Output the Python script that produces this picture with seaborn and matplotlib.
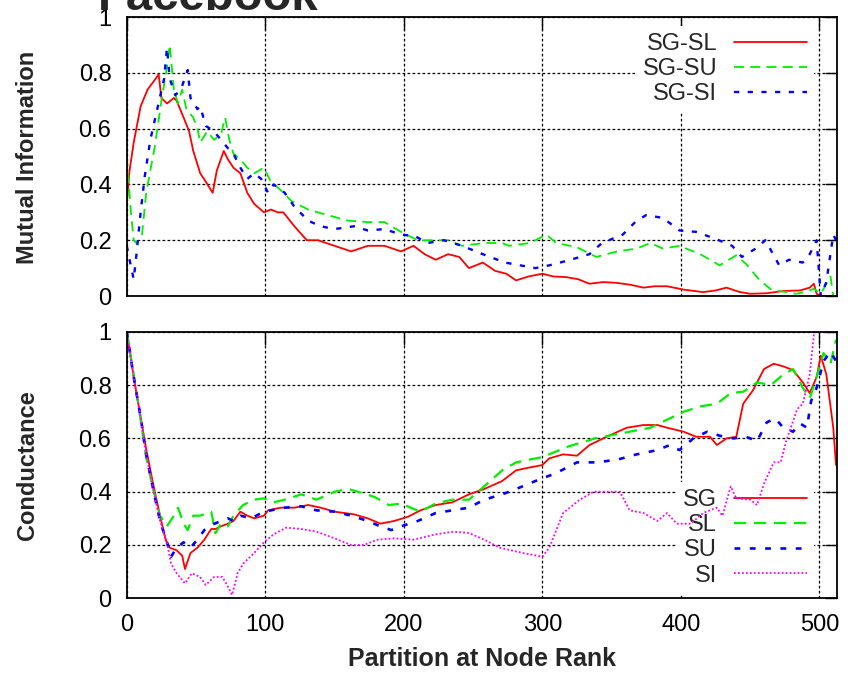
import matplotlib
matplotlib.use("Agg")
import matplotlib.pyplot as plt
import seaborn as sns

# ---------------- data ----------------
# Top panel: Mutual Information
mi_sl_x = [0, 2, 5, 10, 15, 21, 23, 25, 29, 34, 36, 41, 45, 48, 53, 57, 62, 65, 70, 73,
           77, 82, 87, 92, 99, 104, 109, 113, 121, 130, 138, 150, 162, 174, 186, 198, 207,
           215, 223, 232, 240, 247, 257, 266, 274, 281, 290, 300, 308, 317, 326, 334, 344,
           354, 364, 373, 381, 390, 402, 416, 425, 433, 442, 450, 462, 474, 486, 493, 496,
           498, 501, 512]
mi_sl_y = [0.33, 0.45, 0.55, 0.68, 0.74, 0.78, 0.795, 0.71, 0.69, 0.71, 0.70, 0.64, 0.59,
           0.52, 0.44, 0.41, 0.37, 0.45, 0.52, 0.49, 0.46, 0.44, 0.37, 0.33, 0.30, 0.31,
           0.30, 0.30, 0.25, 0.20, 0.20, 0.18, 0.16, 0.18, 0.18, 0.16, 0.18, 0.15, 0.13,
           0.15, 0.14, 0.10, 0.12, 0.09, 0.08, 0.056, 0.07, 0.08, 0.07, 0.068, 0.06, 0.044,
           0.05, 0.047, 0.04, 0.03, 0.035, 0.035, 0.023, 0.014, 0.02, 0.03, 0.015, 0.008,
           0.01, 0.018, 0.02, 0.03, 0.044, 0.008, 0.0, 0.0]

mi_su_x = [0, 3, 5, 7, 11, 14, 17, 20, 23, 25, 29, 31, 34, 37, 40, 43, 48, 51, 53, 58,
           63, 68, 71, 74, 77, 82, 87, 92, 99, 104, 111, 119, 131, 145, 160, 174, 186, 198,
           210, 223, 232, 242, 258, 271, 276, 291, 303, 310, 325, 339, 354, 368, 378, 387,
           399, 414, 428, 440, 447, 457, 466, 475, 483, 490, 496, 501, 508, 510, 512]
mi_su_y = [0.5, 0.3, 0.2, 0.19, 0.22, 0.37, 0.45, 0.53, 0.63, 0.70, 0.82, 0.90, 0.74, 0.69,
           0.74, 0.67, 0.64, 0.60, 0.55, 0.59, 0.56, 0.58, 0.64, 0.56, 0.51, 0.49, 0.46,
           0.44, 0.46, 0.41, 0.38, 0.34, 0.31, 0.29, 0.27, 0.265, 0.265, 0.23, 0.20, 0.20,
           0.20, 0.18, 0.19, 0.19, 0.18, 0.19, 0.22, 0.19, 0.175, 0.14, 0.16, 0.17, 0.19,
           0.17, 0.18, 0.15, 0.11, 0.146, 0.115, 0.056, 0.02, 0.015, 0.008, 0.015, 0.026,
           0.008, 0.07, 0.0, 0.0]

mi_si_x = [0, 2, 5, 7, 10, 13, 17, 22, 27, 29, 31, 35, 39, 44, 46, 51, 53, 57, 63, 68,
           73, 77, 82, 87, 92, 97, 102, 106, 114, 121, 131, 140, 150, 164, 174, 186, 198,
           208, 217, 229, 242, 257, 273, 284, 295, 305, 319, 334, 343, 358, 368, 375, 387,
           399, 411, 425, 437, 444, 454, 461, 471, 478, 488, 493, 498, 501, 505, 510, 512]
mi_si_y = [0.18, 0.13, 0.06, 0.15, 0.30, 0.43, 0.56, 0.67, 0.78, 0.89, 0.78, 0.72, 0.74,
           0.81, 0.71, 0.67, 0.68, 0.61, 0.59, 0.56, 0.53, 0.51, 0.46, 0.42, 0.44, 0.42,
           0.37, 0.40, 0.37, 0.32, 0.27, 0.25, 0.24, 0.25, 0.235, 0.24, 0.22, 0.215, 0.19,
           0.20, 0.18, 0.15, 0.12, 0.11, 0.10, 0.11, 0.128, 0.15, 0.19, 0.22, 0.27, 0.29,
           0.28, 0.235, 0.23, 0.205, 0.18, 0.14, 0.17, 0.20, 0.11, 0.13, 0.12, 0.15, 0.20,
           0.0, 0.05, 0.22, 0.20]

# Bottom panel: Conductance
co_sg_x = [0, 5, 10, 14, 19, 24, 28, 31, 36, 40, 42, 46, 51, 56, 61, 64, 68, 73, 77, 82,
           87, 92, 99, 102, 111, 121, 131, 140, 150, 164, 174, 183, 193, 203, 212, 223,
           235, 247, 258, 271, 281, 290, 300, 305, 315, 325, 334, 348, 361, 373, 383, 390,
           402, 411, 421, 426, 433, 440, 445, 452, 460, 467, 474, 481, 488, 493, 498, 501,
           505, 510, 512]
co_sg_y = [1.0, 0.83, 0.68, 0.56, 0.43, 0.31, 0.22, 0.19, 0.18, 0.16, 0.11, 0.17, 0.19,
           0.22, 0.26, 0.26, 0.27, 0.28, 0.29, 0.325, 0.31, 0.30, 0.31, 0.33, 0.34, 0.34,
           0.35, 0.34, 0.325, 0.315, 0.30, 0.28, 0.29, 0.306, 0.33, 0.35, 0.36, 0.39, 0.41,
           0.44, 0.48, 0.49, 0.50, 0.525, 0.54, 0.535, 0.575, 0.61, 0.64, 0.65, 0.65, 0.64,
           0.625, 0.606, 0.606, 0.575, 0.60, 0.606, 0.73, 0.78, 0.86, 0.88, 0.87, 0.856,
           0.81, 0.77, 0.83, 0.91, 0.84, 0.64, 0.50]

co_sl_x = [0, 5, 10, 14, 19, 24, 29, 34, 37, 41, 44, 48, 53, 61, 64, 68, 73, 77, 84, 92,
           99, 106, 114, 126, 137, 150, 160, 170, 179, 189, 198, 205, 212, 223, 235, 247,
           258, 271, 281, 300, 319, 338, 358, 378, 390, 402, 414, 426, 436, 445, 455, 465,
           474, 481, 488, 493, 498, 503, 508, 512]
co_sl_y = [1.0, 0.84, 0.67, 0.53, 0.41, 0.31, 0.27, 0.31, 0.34, 0.28, 0.256, 0.31, 0.31,
           0.325, 0.244, 0.28, 0.27, 0.31, 0.35, 0.37, 0.375, 0.36, 0.37, 0.39, 0.37, 0.40,
           0.41, 0.395, 0.38, 0.35, 0.355, 0.34, 0.325, 0.356, 0.37, 0.37, 0.42, 0.48, 0.51,
           0.53, 0.57, 0.60, 0.62, 0.64, 0.67, 0.70, 0.72, 0.73, 0.77, 0.775, 0.81, 0.80,
           0.84, 0.86, 0.79, 0.75, 0.83, 0.92, 0.88, 0.97]

co_su_x = [0, 5, 10, 14, 19, 24, 29, 32, 36, 41, 46, 51, 56, 61, 68, 73, 77, 82, 90, 97,
           104, 114, 126, 137, 150, 162, 174, 183, 191, 198, 210, 223, 235, 247, 258, 271,
           281, 295, 310, 325, 339, 354, 368, 383, 392, 399, 409, 419, 428, 438, 447, 455,
           462, 468, 474, 481, 486, 491, 494, 498, 503, 508, 512]
co_su_y = [1.0, 0.83, 0.68, 0.54, 0.41, 0.29, 0.21, 0.156, 0.19, 0.21, 0.19, 0.22, 0.256,
           0.275, 0.29, 0.30, 0.29, 0.31, 0.30, 0.32, 0.33, 0.34, 0.345, 0.33, 0.325, 0.31,
           0.29, 0.27, 0.256, 0.27, 0.29, 0.32, 0.33, 0.34, 0.37, 0.39, 0.41, 0.44, 0.47,
           0.51, 0.51, 0.52, 0.54, 0.556, 0.575, 0.556, 0.60, 0.625, 0.61, 0.60, 0.606,
           0.59, 0.66, 0.675, 0.64, 0.625, 0.656, 0.64, 0.74, 0.79, 0.89, 0.925, 0.89]

co_si_x = [0, 5, 10, 14, 19, 24, 29, 32, 36, 42, 47, 53, 57, 63, 69, 73, 76, 80, 84, 92,
           99, 106, 115, 126, 137, 150, 162, 171, 181, 193, 207, 223, 236, 247, 258, 269,
           286, 300, 305, 315, 327, 337, 349, 356, 363, 373, 383, 390, 397, 407, 416, 426,
           430, 436, 440, 450, 455, 460, 467, 472, 476, 484, 488, 493, 496, 498, 512]
co_si_y = [1.0, 0.83, 0.68, 0.54, 0.41, 0.29, 0.21, 0.13, 0.094, 0.056, 0.094, 0.08, 0.05,
           0.08, 0.08, 0.044, 0.0125, 0.094, 0.13, 0.17, 0.21, 0.24, 0.265, 0.26, 0.25,
           0.225, 0.20, 0.20, 0.22, 0.225, 0.22, 0.24, 0.25, 0.245, 0.22, 0.19, 0.17, 0.156,
           0.19, 0.32, 0.37, 0.40, 0.40, 0.40, 0.33, 0.32, 0.29, 0.32, 0.28, 0.28, 0.32,
           0.34, 0.31, 0.42, 0.375, 0.37, 0.35, 0.43, 0.51, 0.51, 0.59, 0.71, 0.73, 0.84,
           0.99, 1.0, 1.0]

top_labels = ["SG-SL", "SG-SU", "SG-SI"]
bottom_labels = ["SG", "SL", "SU", "SI"]
x_ticks = [0, 100, 200, 300, 400, 500]
x_tick_labels = ["0", "100", "200", "300", "400", "500"]
y_ticks = [0, 0.2, 0.4, 0.6, 0.8, 1.0]
y_tick_labels = ["0", "0.2", "0.4", "0.6", "0.8", "1"]
title_text = "Facebook"
top_ylabel = "Mutual Information"
bottom_ylabel = "Conductance"
x_label = "Partition at Node Rank"

# ---------------- styling ----------------
sns.set_theme(style="white")
plt.rcParams["font.family"] = ["Liberation Sans", "DejaVu Sans"]

RED = "#ff0000"
GREEN = "#00ee00"
BLUE = "#0000ff"
MAG = "#ff00ff"
LW = 1.3
styles = {
    "solid": "-",
    "dashed": (0, (5.5, 3.5)),
    "dotted": (0, (2.2, 3.6)),
    "fine": (0, (1.0, 1.2)),
}

fig = plt.figure(figsize=(8.48, 6.74), dpi=100)
ax1 = fig.add_axes([0.1495, 0.5608, 0.8372, 0.4139])
ax2 = fig.add_axes([0.1495, 0.1123, 0.8372, 0.3955])

sns.lineplot(x=mi_sl_x, y=mi_sl_y, ax=ax1, color=RED, lw=LW, linestyle=styles["solid"],
             label=top_labels[0], estimator=None, sort=False, errorbar=None)
sns.lineplot(x=mi_su_x, y=mi_su_y, ax=ax1, color=GREEN, lw=LW, linestyle=styles["dashed"],
             label=top_labels[1], estimator=None, sort=False, errorbar=None)
sns.lineplot(x=mi_si_x, y=mi_si_y, ax=ax1, color=BLUE, lw=LW + 0.4, linestyle=styles["dotted"],
             label=top_labels[2], estimator=None, sort=False, errorbar=None)

sns.lineplot(x=co_sg_x, y=co_sg_y, ax=ax2, color=RED, lw=LW, linestyle=styles["solid"],
             label=bottom_labels[0], estimator=None, sort=False, errorbar=None)
sns.lineplot(x=co_sl_x, y=co_sl_y, ax=ax2, color=GREEN, lw=LW + 0.3, linestyle=styles["dashed"],
             label=bottom_labels[1], estimator=None, sort=False, errorbar=None)
sns.lineplot(x=co_su_x, y=co_su_y, ax=ax2, color=BLUE, lw=LW + 0.6, linestyle=styles["dotted"],
             label=bottom_labels[2], estimator=None, sort=False, errorbar=None)
sns.lineplot(x=co_si_x, y=co_si_y, ax=ax2, color=MAG, lw=LW, linestyle=styles["fine"],
             label=bottom_labels[3], estimator=None, sort=False, errorbar=None)

for ax in (ax1, ax2):
    ax.set_xlim(0, 512.5)
    ax.set_ylim(0, 1)
    ax.set_xticks(x_ticks)
    ax.set_yticks(y_ticks)
    ax.set_yticklabels(y_tick_labels)
    ax.set_xlabel("")
    ax.set_ylabel("")
    ax.set_axisbelow(True)
    ax.grid(True, color="black", linestyle=(0, (2.2, 1.8)), linewidth=0.9)
    ax.tick_params(direction="in", length=9, width=1.0, top=True, right=True,
                   labelsize=17, pad=11, colors="black")
    for sp in ax.spines.values():
        sp.set_visible(True)
        sp.set_color("black")
        sp.set_linewidth(1.3)

ax1.tick_params(labelbottom=False)
ax2.set_xticklabels(x_tick_labels)

leg_kw = dict(markerfirst=False, frameon=True, facecolor="white", edgecolor="none",
              framealpha=1, fontsize=17, handlelength=3.1, handletextpad=0.7,
              labelspacing=0.13, borderpad=0.3, borderaxespad=0, fancybox=False)
h1, l1 = ax1.get_legend_handles_labels()
leg1 = ax1.legend(h1, l1, loc="upper right", bbox_to_anchor=(0.968, 0.967), **leg_kw)
leg1.set_zorder(1.8)
h2, l2 = ax2.get_legend_handles_labels()
leg2 = ax2.legend(h2, l2, loc="lower right", bbox_to_anchor=(0.968, 0.0175), **leg_kw)
leg2.set_zorder(1.8)

fig.text(28 / 848, 1 - 157 / 674, top_ylabel, rotation=90, fontsize=17,
         fontweight="bold", ha="center", va="center")
fig.text(28 / 848, 1 - 465 / 674, bottom_ylabel, rotation=90, fontsize=17,
         fontweight="bold", ha="center", va="center")
fig.text(482 / 848, 1 - 659 / 674, x_label, fontsize=18, fontweight="bold",
         ha="center", va="center")
fig.text(98 / 848, 1 - 10 / 674, title_text, fontsize=34, fontweight="bold",
         ha="left", va="baseline")

fig.savefig("out.png", dpi=100)
